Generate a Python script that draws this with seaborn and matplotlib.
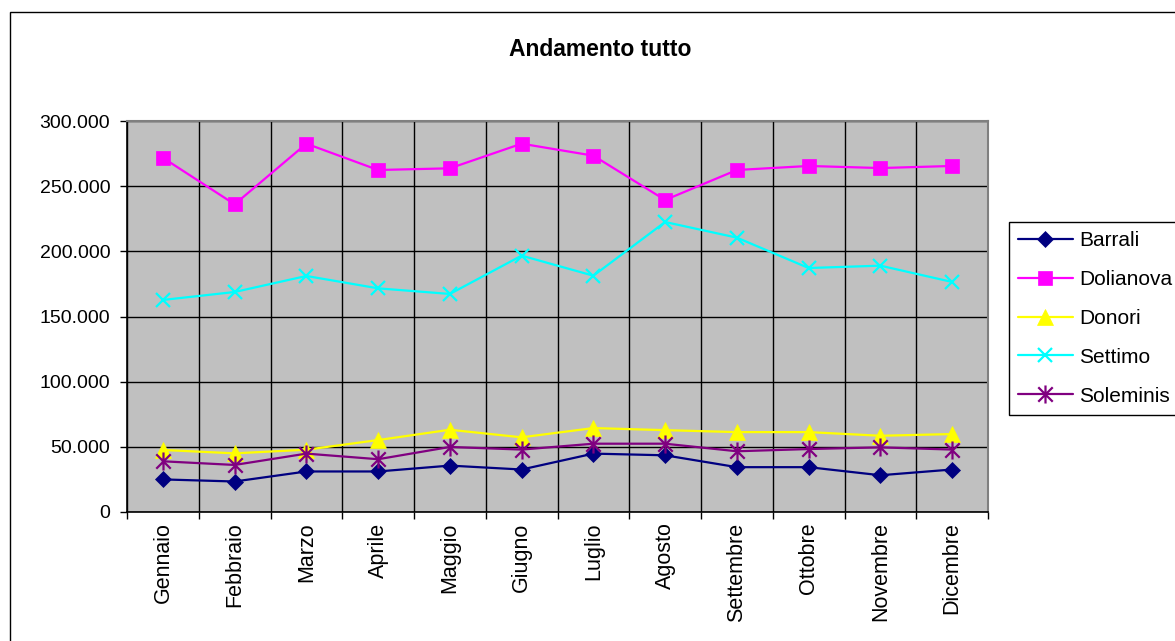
import matplotlib
matplotlib.use("Agg")
import matplotlib.pyplot as plt
import matplotlib.ticker as mticker
from matplotlib.path import Path
from matplotlib.patches import Rectangle
import seaborn as sns
import pandas as pd

mesi = ["Gennaio", "Febbraio", "Marzo", "Aprile", "Maggio", "Giugno",
        "Luglio", "Agosto", "Settembre", "Ottobre", "Novembre", "Dicembre"]

barrali = [25000, 23400, 31100, 31100, 35600, 32600, 44800, 43500, 34400, 34400, 28200, 32600]
dolianova = [271800, 236100, 282600, 262400, 263700, 282600, 273400, 239400, 262400, 265500, 263900, 265500]
donori = [47600, 45000, 47800, 55200, 63100, 57300, 64400, 62800, 61300, 61300, 58500, 59800]
settimo = [162700, 168800, 181100, 171600, 167300, 196700, 181300, 222500, 210500, 187200, 189000, 176500]
soleminis = [38900, 36100, 44800, 40500, 49900, 47900, 52400, 52400, 46600, 48300, 49600, 47900]

serie = ["Barrali", "Dolianova", "Donori", "Settimo", "Soleminis"]
valori = [barrali, dolianova, donori, settimo, soleminis]
colori = ["#000080", "#FF00FF", "#FFFF00", "#00FFFF", "#800080"]

ast = Path([(-1, -1), (1, 1), (-1, 1), (1, -1), (0, -1.25), (0, 1.25)],
           [Path.MOVETO, Path.LINETO, Path.MOVETO, Path.LINETO, Path.MOVETO, Path.LINETO])
marcatori = {"Barrali": "D", "Dolianova": "s", "Donori": "^", "Settimo": "x", "Soleminis": ast}
dimensioni = {"Barrali": 8.5, "Dolianova": 9.5, "Donori": 11, "Settimo": 9.5, "Soleminis": 13}

df = pd.DataFrame([(s, m, v) for s, vals in zip(serie, valori) for m, v in zip(mesi, vals)],
                  columns=["comune", "mese", "valore"])

sns.set_style("white")
plt.rcParams["font.family"] = ["Liberation Sans", "DejaVu Sans"]
plt.rcParams["text.color"] = "black"
plt.rcParams["xtick.color"] = "black"
plt.rcParams["ytick.color"] = "black"
plt.rcParams["axes.labelcolor"] = "black"

fig = plt.figure(figsize=(11.75, 6.41), dpi=100)
fig.patch.set_facecolor("white")
ax = fig.add_axes([127 / 1175, 1 - 512 / 641, (988 - 127) / 1175, (512 - 121) / 641])
ax.set_facecolor("#C0C0C0")

sns.lineplot(data=df, x="mese", y="valore", hue="comune", hue_order=serie,
             palette=dict(zip(serie, colori)),
             linewidth=1.6, legend=False, ax=ax, sort=False)

for line, s in zip(ax.get_lines(), serie):
    c = line.get_color()
    line.set_marker(marcatori[s])
    line.set_markersize(dimensioni[s])
    line.set_markeredgecolor(c)
    line.set_markerfacecolor(c)
    line.set_markeredgewidth(1.6 if s in ("Settimo", "Soleminis") else 0.5)
    line.set_label(s)
    line.set_zorder(3)

ax.set_xlim(-0.5, len(mesi) - 0.5)
ax.set_ylim(0, 300000)
ax.yaxis.set_major_locator(mticker.MultipleLocator(50000))
ax.yaxis.set_major_formatter(mticker.FuncFormatter(lambda v, p: f"{v:,.0f}".replace(",", ".")))
ax.set_xticks(range(len(mesi)))
ax.set_xticklabels(mesi, rotation=90, fontsize=15.5)
ax.set_xticks([i - 0.5 for i in range(len(mesi) + 1)], minor=True)
ax.tick_params(axis="x", which="major", length=0, pad=7.5)
ax.tick_params(axis="x", which="minor", length=5, width=1, color="black", direction="out", bottom=True)
ax.tick_params(axis="y", which="major", length=5, width=1, color="black", direction="out",
               pad=7, labelsize=14, left=True)
ax.set_xlabel("")
ax.set_ylabel("")

ax.grid(False)
ax.grid(True, axis="y", which="major", color="black", linewidth=1)
ax.grid(True, axis="x", which="minor", color="black", linewidth=1)
ax.set_axisbelow(True)

for side in ("top", "right"):
    ax.spines[side].set_color("#808080")
    ax.spines[side].set_linewidth(1.5)
for side in ("left", "bottom"):
    ax.spines[side].set_color("black")
    ax.spines[side].set_linewidth(1.2)
for sp in ax.spines.values():
    sp.set_visible(True)

fig.text(600 / 1175, 1 - 56 / 641, "Andamento tutto", ha="center", va="baseline",
         fontsize=16.5, fontweight="bold", color="black")

fig.patches.append(Rectangle((10 / 1175, -0.2), 1.2, 1.2 - 12 / 641, transform=fig.transFigure,
                             fill=False, edgecolor="black", linewidth=1, clip_on=False))

leg = fig.legend(handles=ax.get_lines()[:5], labels=serie, loc="upper left",
                 bbox_to_anchor=(1009 / 1175, 1 - 222 / 641), borderaxespad=0,
                 fontsize=15, frameon=True, fancybox=False, shadow=False,
                 handlelength=2.6, handletextpad=0.3, labelspacing=0.95,
                 borderpad=0.45, framealpha=1)
leg.get_frame().set_edgecolor("black")
leg.get_frame().set_linewidth(1)

fig.savefig("out.png", dpi=100)
